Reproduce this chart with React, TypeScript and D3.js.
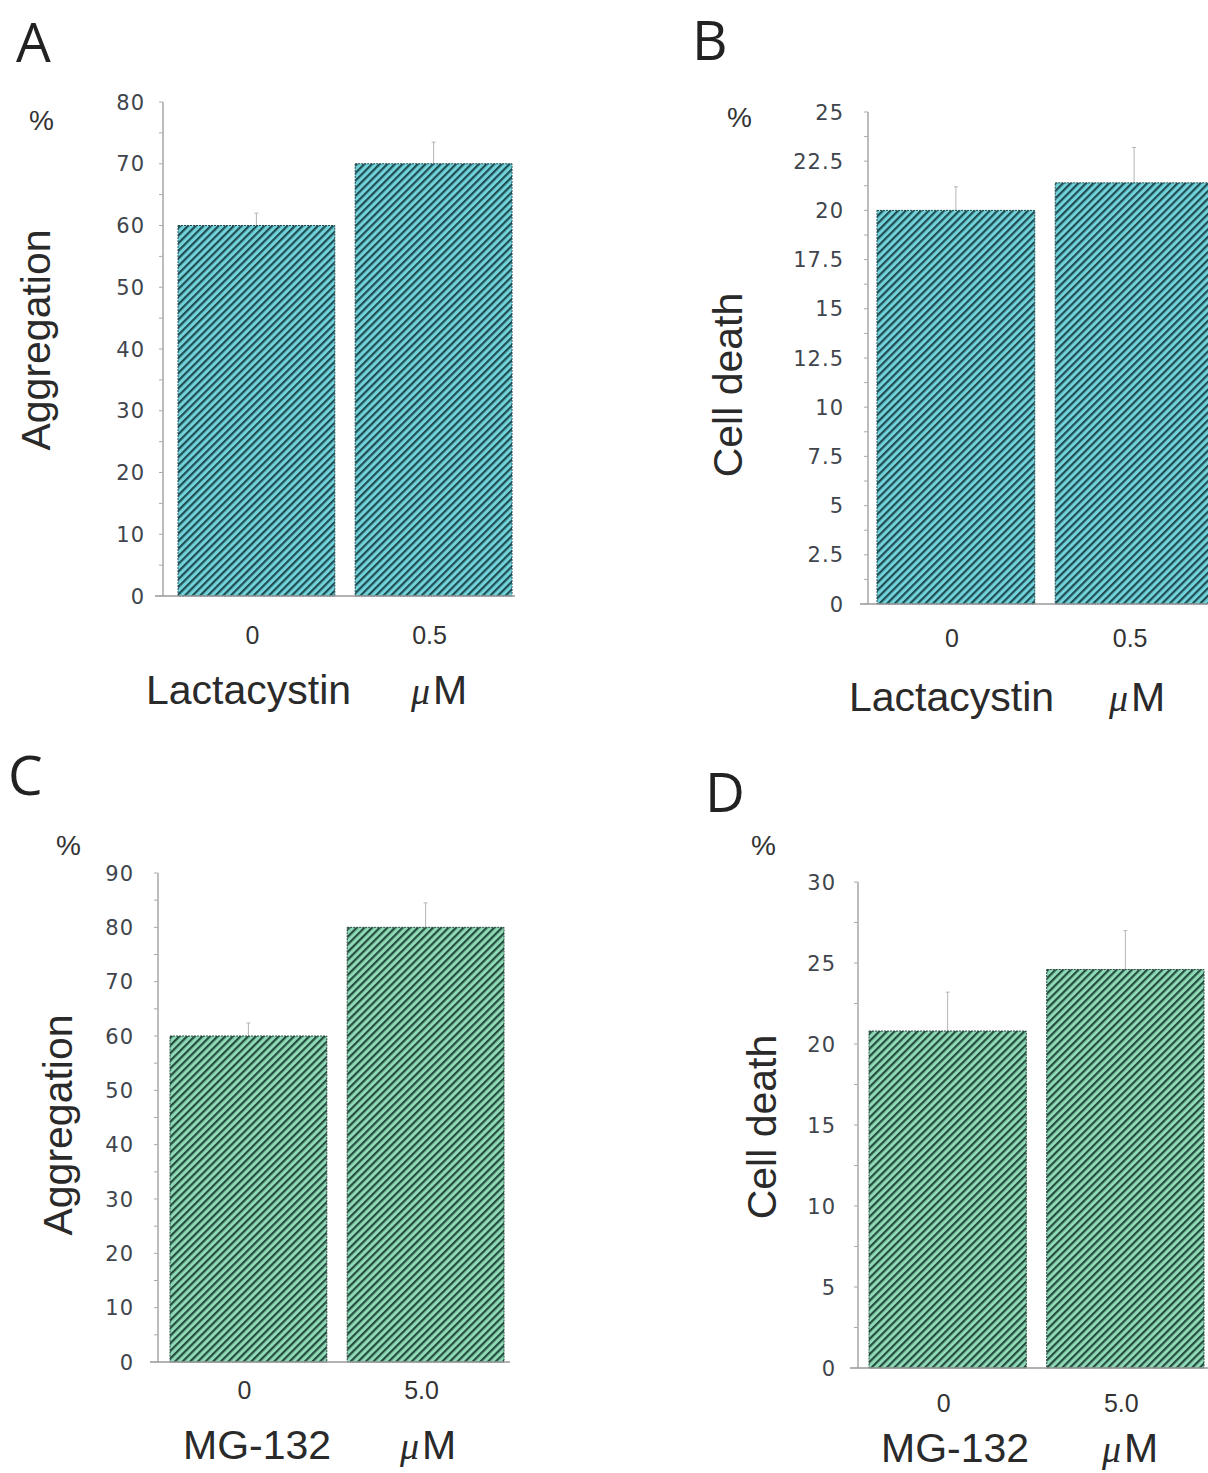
import React from "react";
import * as d3 from "d3";

// values
const lactaDoses = ["0", "0.5"];
const mgDoses = ["0", "5.0"];

const aggLactaMeans = [60, 70];
const aggLactaErrors = [2, 3.5];
const deathLactaMeans = [20.0, 21.4];
const deathLactaErrors = [1.2, 1.8];
const aggMgMeans = [60, 80];
const aggMgErrors = [2.4, 4.5];
const deathMgMeans = [20.8, 24.6];
const deathMgErrors = [2.4, 2.4];

const ticksAggLacta = [0, 10, 20, 30, 40, 50, 60, 70, 80];
const ticksDeathLacta = [0, 2.5, 5, 7.5, 10, 12.5, 15, 17.5, 20, 22.5, 25];
const ticksAggMg = [0, 10, 20, 30, 40, 50, 60, 70, 80, 90];
const ticksDeathMg = [0, 5, 10, 15, 20, 25, 30];

const TEAL = { light: "#72d2d9", dark: "#1e4d54" };
const GREEN = { light: "#8edab6", dark: "#264c3f" };

const tickFont = "'DejaVu Sans', Verdana, sans-serif";
const sansFont = "'Liberation Sans', Arial, sans-serif";

function Panel(props: any) {
  const p = props;
  const y = d3.scaleLinear().domain([0, p.ticks[p.ticks.length - 1]]).range([p.yBottom, p.yTop]);
  const x = d3.scaleBand().domain(p.cats).range([p.barX0, p.barX1]).paddingInner(0.115).paddingOuter(0);
  const minor = d3.range(0, p.ticks[p.ticks.length - 1] + 1e-9, p.minorStep);

  return (
    <g>
      <text x={p.letterX} y={p.letterY} fontFamily="'Open Sans', sans-serif" fontWeight={400} fontSize={55} fill="#222">{p.letter}</text>
      <text x={p.pctX} y={p.pctY} fontFamily={sansFont} fontSize={28} fill="#333">%</text>

      {p.cats.map((c: string, i: number) => {
        const bx = x(c)!;
        const cx = bx + x.bandwidth() / 2;
        return (
          <g key={c}>
            <line x1={cx} x2={cx} y1={y(p.means[i])} y2={y(p.means[i] + p.errors[i])} stroke="#b5b5b5" strokeWidth={1} />
            <line x1={cx - 2} x2={cx + 2} y1={y(p.means[i] + p.errors[i])} y2={y(p.means[i] + p.errors[i])} stroke="#b5b5b5" strokeWidth={1} />
            <rect x={bx} y={y(p.means[i])} width={x.bandwidth()} height={y(0) - y(p.means[i])}
              fill={`url(#${p.pattern})`} stroke={p.color.dark} strokeWidth={1} strokeDasharray="2,1" />
            <text x={cx - 4} y={p.xTickY} textAnchor="middle" fontFamily={sansFont} fontSize={25} fill="#333">{c}</text>
          </g>
        );
      })}

      {/* axes */}
      <line x1={p.axisX} x2={p.axisX} y1={p.yTop} y2={p.yBottom} stroke="#999" strokeWidth={1.3} />
      <line x1={p.axisX - 8} x2={p.axisRight} y1={p.yBottom} y2={p.yBottom} stroke="#999" strokeWidth={1.3} />
      {minor.map((v: number) => (
        <line key={"m" + v} x1={p.axisX - 4} x2={p.axisX} y1={y(v)} y2={y(v)} stroke="#aaa" strokeWidth={1} />
      ))}
      {p.ticks.map((v: number) => (
        <text key={"t" + v} x={p.axisX - p.labelGap} y={y(v)} dy="0.36em" textAnchor="end"
          fontFamily={tickFont} fontSize={21} letterSpacing={1} fill="#40454d">{v}</text>
      ))}

      <text transform={`translate(${p.yLabelX},${p.yLabelCY}) rotate(-90)`} textAnchor="middle"
        fontFamily={sansFont} fontSize={41} fill="#2a2a2a">{p.yLabel}</text>

      <text x={p.titleX} y={p.titleY} fontFamily={sansFont} fontSize={41} fill="#2a2a2a">{p.title}</text>
      <text x={p.unitX} y={p.titleY} fill="#2a2a2a">
        <tspan fontFamily="'Liberation Serif', serif" fontStyle="italic" fontSize={38}>μ</tspan>
        <tspan fontFamily={sansFont} fontSize={41} dx={3}>M</tspan>
      </text>
    </g>
  );
}

export default function App() {
  const patterns = [
    { id: "hatchTeal", c: TEAL },
    { id: "hatchGreen", c: GREEN },
  ];
  return (
    <svg width={1208} height={1473} style={{ position: "absolute", left: 0, top: 0, background: "#fff" }}>
      <defs>
        {patterns.map((pt) => (
          <pattern key={pt.id} id={pt.id} patternUnits="userSpaceOnUse" width={5.4} height={5.4} patternTransform="rotate(45)">
            <rect x={0} y={0} width={5.4} height={5.4} fill={pt.c.light} />
            <rect x={0} y={0} width={2.2} height={5.4} fill={pt.c.dark} />
          </pattern>
        ))}
      </defs>

      <Panel letter="A" letterX={16} letterY={62} pctX={29} pctY={130}
        cats={lactaDoses} means={aggLactaMeans} errors={aggLactaErrors} ticks={ticksAggLacta} minorStep={5}
        axisX={163} yTop={102} yBottom={596} axisRight={515} barX0={178} barX1={512} labelGap={18}
        xTickY={644} yLabel="Aggregation" yLabelX={50} yLabelCY={340}
        title="Lactacystin" titleX={146} titleY={704} unitX={411}
        pattern="hatchTeal" color={TEAL} />

      <Panel letter="B" letterX={692} letterY={60} pctX={727} pctY={127}
        cats={lactaDoses} means={deathLactaMeans} errors={deathLactaErrors} ticks={ticksDeathLacta} minorStep={1.25}
        axisX={868} yTop={112} yBottom={604} axisRight={1208} barX0={877} barX1={1213} labelGap={24}
        xTickY={647} yLabel="Cell death" yLabelX={742} yLabelCY={385}
        title="Lactacystin" titleX={849} titleY={711} unitX={1109}
        pattern="hatchTeal" color={TEAL} />

      <Panel letter="C" letterX={8} letterY={795} pctX={56} pctY={855}
        cats={mgDoses} means={aggMgMeans} errors={aggMgErrors} ticks={ticksAggMg} minorStep={5}
        axisX={158} yTop={873} yBottom={1362} axisRight={510} barX0={170} barX1={504} labelGap={24}
        xTickY={1399} yLabel="Aggregation" yLabelX={72} yLabelCY={1125}
        title="MG-132" titleX={183} titleY={1459} unitX={400}
        pattern="hatchGreen" color={GREEN} />

      <Panel letter="D" letterX={705} letterY={812} pctX={751} pctY={855}
        cats={mgDoses} means={deathMgMeans} errors={deathMgErrors} ticks={ticksDeathMg} minorStep={2.5}
        axisX={858} yTop={882} yBottom={1368} axisRight={1208} barX0={869} barX1={1204} labelGap={22}
        xTickY={1412} yLabel="Cell death" yLabelX={776} yLabelCY={1127}
        title="MG-132" titleX={881} titleY={1462} unitX={1102}
        pattern="hatchGreen" color={GREEN} />
    </svg>
  );
}
